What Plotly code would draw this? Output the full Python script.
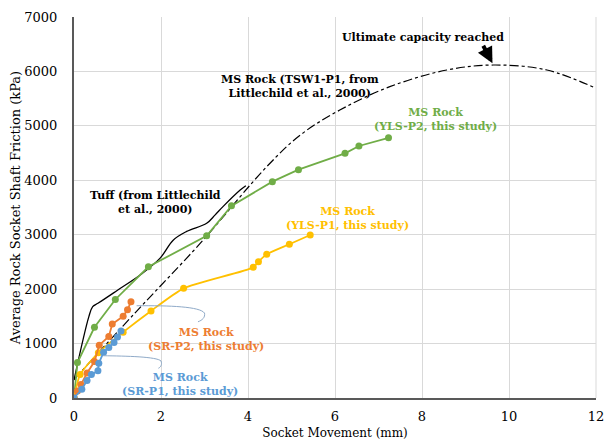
import plotly.graph_objects as go

# ---- data (mm, kPa) ----
sr_p1_x = [0, 0.18, 0.30, 0.40, 0.55, 0.57, 0.68, 0.80, 0.92, 1.00, 1.08]
sr_p1_y = [0, 160, 320, 430, 500, 640, 840, 930, 1020, 1120, 1230]

sr_p2_x = [0, 0.08, 0.16, 0.30, 0.47, 0.58, 0.80, 0.88, 1.13, 1.23, 1.31]
sr_p2_y = [0, 130, 250, 460, 670, 970, 1130, 1360, 1500, 1620, 1770]

yls_p1_x = [0, 0.14, 0.56, 1.13, 1.77, 2.52, 4.12, 4.24, 4.43, 4.95, 5.43]
yls_p1_y = [0, 430, 830, 1210, 1600, 2015, 2400, 2505, 2640, 2825, 2995]

yls_p2_x = [0, 0.08, 0.47, 0.95, 1.71, 3.05, 3.62, 4.56, 5.16, 6.23, 6.55, 7.23]
yls_p2_y = [0, 650, 1300, 1810, 2410, 2980, 3530, 3975, 4195, 4495, 4630, 4780]

tuff_x = [0, 0.34, 0.43, 0.55, 1.0, 1.52, 1.98, 2.28, 2.59, 3.05, 3.24, 3.43, 3.82, 3.95]
tuff_y = [330, 1490, 1680, 1740, 1980, 2260, 2570, 2900, 3060, 3210, 3360, 3520, 3820, 3900]

tsw_x = [0, 1.4, 2.9, 4.43, 5.2, 6.11, 7.26, 8.57, 9.64, 10.87, 12]
tsw_y = [340, 1560, 2840, 4250, 4830, 5290, 5720, 6026, 6118, 6026, 5690]

x_ticks = [0, 2, 4, 6, 8, 10, 12]
y_ticks = [0, 1000, 2000, 3000, 4000, 5000, 6000, 7000]

GREEN = "#70AD47"
YELLOW = "#FFC000"
ORANGE = "#ED7D31"
BLUE = "#5B9BD5"
LEADER = "#8FAAC8"
SERIF = "DejaVu Serif"

fig = go.Figure()

fig.add_trace(go.Scatter(x=tsw_x, y=tsw_y, mode="lines",
                         line=dict(color="black", width=1.2, dash="dashdot", shape="spline"),
                         name="TSW1-P1"))
fig.add_trace(go.Scatter(x=tuff_x, y=tuff_y, mode="lines",
                         line=dict(color="black", width=1.3, shape="spline"),
                         name="Tuff"))
fig.add_trace(go.Scatter(x=yls_p2_x, y=yls_p2_y, mode="lines+markers",
                         line=dict(color=GREEN, width=1.8),
                         marker=dict(color=GREEN, size=7), name="YLS-P2"))
fig.add_trace(go.Scatter(x=yls_p1_x, y=yls_p1_y, mode="lines+markers",
                         line=dict(color=YELLOW, width=1.8, shape="spline", smoothing=0.6),
                         marker=dict(color=YELLOW, size=7), name="YLS-P1"))
fig.add_trace(go.Scatter(x=sr_p2_x, y=sr_p2_y, mode="lines+markers",
                         line=dict(color=ORANGE, width=1.8),
                         marker=dict(color=ORANGE, size=7), name="SR-P2"))
fig.add_trace(go.Scatter(x=sr_p1_x, y=sr_p1_y, mode="lines+markers",
                         line=dict(color=BLUE, width=1.8),
                         marker=dict(color=BLUE, size=7), name="SR-P1"))

# leader (callout) lines
fig.add_shape(type="path", xref="x", yref="y",
              path="M 1.44,1695 C 2.2,1700 2.9,1680 3.0,1560 C 3.02,1480 2.95,1430 2.85,1400",
              line=dict(color=LEADER, width=1))
fig.add_shape(type="path", xref="x", yref="y",
              path="M 0.67,777 C 1.2,770 1.9,760 2.0,680 C 2.03,620 2.0,570 1.94,546",
              line=dict(color=LEADER, width=1))

def label(x, y, text, color):
    fig.add_annotation(x=x, y=y, xref="x", yref="y", text=text, showarrow=False,
                       font=dict(family=SERIF, size=11, color=color, weight="bold"),
                       align="center")

label(8.02, 6632, "Ultimate capacity reached", "black")
label(5.2, 5732, "MS Rock (TSW1-P1, from<br>Littlechild et al., 2000)", "black")
label(1.88, 3583, "Tuff (from Littlechild<br>et al., 2000)", "black")
label(8.32, 5126, "MS Rock<br>(YLS-P2, this study)", GREEN)
label(6.28, 3307, "MS Rock<br>(YLS-P1, this study)", YELLOW)
label(3.03, 1066, "MS Rock<br>(SR-P2, this study)", ORANGE)
label(2.44, 257, "MS Rock<br>(SR-P1, this study)", BLUE)

fig.add_annotation(x=9.62, y=6150, xref="x", yref="y", text="", showarrow=True,
                   ax=-10, ay=-19, arrowhead=2, arrowsize=0.8, arrowwidth=4,
                   arrowcolor="black")

fig.update_layout(
    width=606, height=445,
    margin=dict(l=74, r=10, t=17, b=47),
    paper_bgcolor="white", plot_bgcolor="white",
    showlegend=False,
    font=dict(family=SERIF, size=13, color="black"),
    xaxis=dict(range=[0, 12], tickvals=x_ticks, showgrid=True, gridcolor="#D9D9D9",
               gridwidth=1, showline=True, linecolor="#595959", linewidth=2,
               zeroline=False, ticks="outside", ticklen=5, tickcolor="rgba(0,0,0,0)",
               automargin=False,
               title=dict(text="Socket Movement (mm)", standoff=6,
                          font=dict(family=SERIF, size=12)),
               tickfont=dict(family=SERIF, size=13)),
    yaxis=dict(range=[0, 7000], tickvals=y_ticks, showgrid=True, gridcolor="#D9D9D9",
               gridwidth=1, showline=True, linecolor="#595959", linewidth=2,
               zeroline=False, ticks="outside", ticklen=12, tickcolor="rgba(0,0,0,0)",
               automargin=False,
               title=dict(text="Average Rock Socket Shaft Friction (kPa)", standoff=1,
                          font=dict(family=SERIF, size=13)),
               tickfont=dict(family=SERIF, size=13)),
)
fig.add_shape(type="line", xref="paper", yref="paper", x0=1, x1=1, y0=0, y1=1,
              line=dict(color="#D9D9D9", width=1))

fig.write_html("out.html")
